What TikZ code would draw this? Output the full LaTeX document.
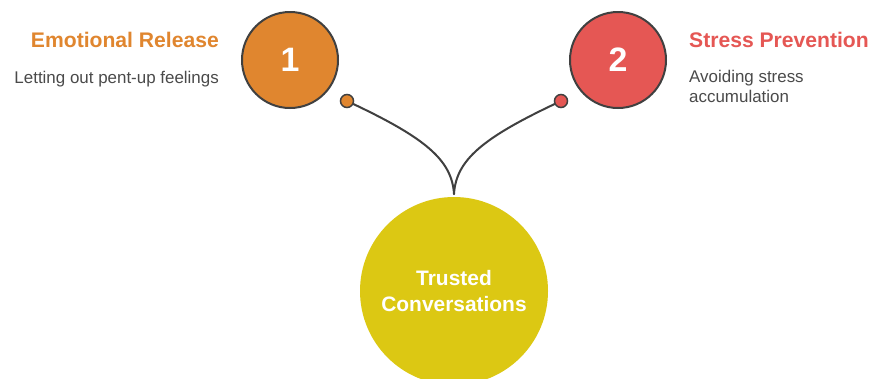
\documentclass[tikz,border=0pt]{standalone}
\usepackage{fontspec}
\setmainfont{Liberation Sans}
\begin{document}
\definecolor{orangeA}{HTML}{E0862F}
\definecolor{redB}{HTML}{E55754}
\definecolor{yellowC}{HTML}{DCC813}
\definecolor{inkgray}{HTML}{404040}
\definecolor{textgray}{HTML}{4A4A4A}
\begin{tikzpicture}[x=1bp,y=-1bp,
  numcircle/.style={circle,draw=inkgray,line width=2bp,minimum size=96bp,inner sep=0pt,
    text=white,font=\fontsize{34}{34}\selectfont\bfseries},
  hubcircle/.style={circle,minimum size=188bp,inner sep=0pt,fill=yellowC},
  pin/.style={circle,draw=inkgray,line width=1.5bp,minimum size=13bp,inner sep=0pt},
  title/.style={inner sep=0pt,font=\fontsize{21.2}{21}\selectfont\bfseries},
  desc/.style={inner sep=0pt,text=textgray,font=\fontsize{17}{20.5}\selectfont},
  link/.style={draw=inkgray,line width=2bp,line cap=round}]
\useasboundingbox (0,0) rectangle (871,378);
\fill[white] (0,0) rectangle (871,378);

% central hub
\node[hubcircle] (hub) at (454,291) {};
\node[text=white,font=\fontsize{21}{27}\selectfont\bfseries,align=center,inner sep=0pt]
  (hubtext) at (454,291) {Trusted\\Conversations};
\coordinate (join) at (454,194);

% numbered circles
\node[numcircle,fill=orangeA] (one) at (290,60) {1};
\node[numcircle,fill=redB] (two) at (618,60) {2};

% connector pins
\node[pin,fill=orangeA] (pinone) at (347,101) {};
\node[pin,fill=redB] (pintwo) at (561,101) {};

% curved connectors
\draw[link] (pinone) .. controls (425,138) and (452,160) .. (join);
\draw[link] (pintwo) .. controls (483,138) and (456,160) .. (join);

% labels
\node[title,text=orangeA,anchor=base east] (t1) at (219,47) {Emotional Release};
\node[desc,anchor=base east] (d1) at (219,83) {Letting out pent-up feelings};
\node[title,text=redB,anchor=base west] (t2) at (689,47) {Stress Prevention};
\node[desc,anchor=north west,align=left] (d2) at (689,70) {Avoiding stress\\accumulation};
\end{tikzpicture}
\end{document}
